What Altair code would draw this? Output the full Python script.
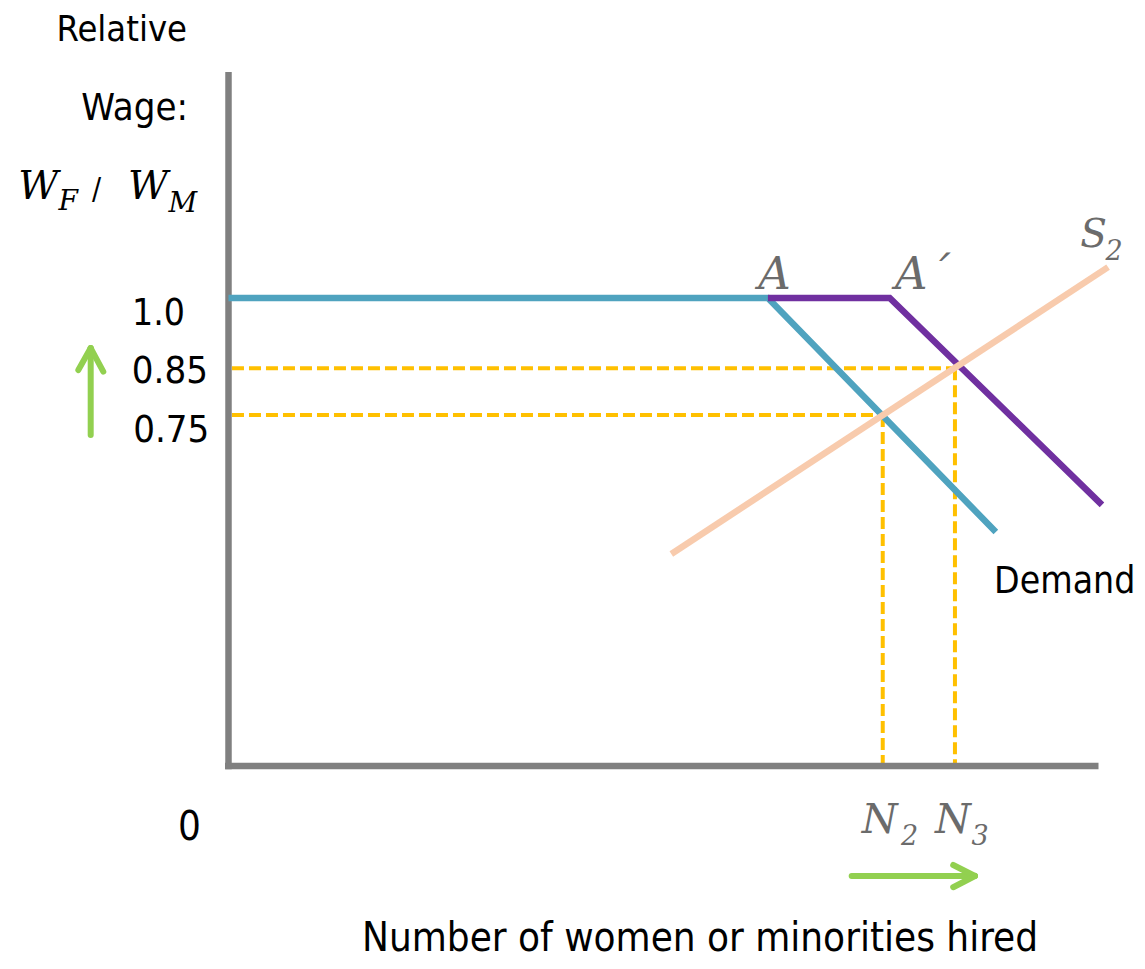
import altair as alt
import pandas as pd

# ---------------- data (quantity q: 0..100 along the x axis, relative wage w) ----------------
# axes
axis_q = [0, -0.4]          # start of vertical axis / horizontal axis
axis_q2 = [0, 100]
axis_w = [-0.007, 0]
axis_w2 = [1.483, 0]

# Demand curve with kink at A
demA_q = [0, 62.0, 88.2]
demA_w = [1.0, 1.0, 0.5]
# Demand curve with kink at A'
demA2_q = [62.0, 76.0, 100.4]
demA2_w = [1.0, 1.0, 0.558]
# Supply S2
sup_q = [50.9, 101.1]
sup_w = [0.453, 1.066]

# equilibria: (N2, 0.75) and (N3, 0.85)
eq_q = [75.2, 83.5]
eq_w = [0.75, 0.85]

# green arrows (shaft + head)
arrow_q = [-15.84, -17.26, -14.39, 71.63, 83.3, 83.3]
arrow_w = [0.707, 0.846, 0.8425, -0.235, -0.2115, -0.259]
arrow_q2 = [-15.84, -15.84, -15.84, 85.8, 85.8, 85.8]
arrow_w2 = [0.893, 0.893, 0.893, -0.235, -0.235, -0.235]

# labels
sansL_text = ["1.0", "0.85", "0.75", "0", "Demand", "/"]
sansL_q = [-11.09, -11.11, -10.96, -5.81, 88.0, -15.7]
sansL_w = [0.942, 0.818, 0.693, -0.158, 0.370, 1.2115]
sansL_fs = [37, 38, 38, 40, 37, 30]

sansR_text = ["Relative", "Wage:"]
sansR_q = [-4.77, -4.66]
sansR_w = [1.549, 1.380]
sansR_fs = [36, 38]

title_text = ["Number of women or minorities hired"]
title_q = [54.2]
title_w = [-0.396]

ital_text = ["W", "F", "W", "M", "A", "A\u00b4", "S", "2", "N", "2", "N", "3"]
ital_q = [-24.16, -19.55, -11.55, -6.9, 60.9, 76.6, 97.9, 100.8, 72.8, 77.3, 81.2, 85.4]
ital_w = [1.2115, 1.188, 1.2115, 1.1838, 1.019, 1.019, 1.109, 1.081, -0.143, -0.169, -0.143, -0.169]
ital_fs = [39, 28, 39, 28, 45, 45, 39, 27, 41, 27, 41, 27]

# ---------------- chart ----------------
PX_Q = 8.7
PX_W = 468.0
Q0 = (8 - 228.5) / PX_Q
Q1 = (1137 - 228.5) / PX_Q
W1 = (766 - 8) / PX_W
W0 = (766 - 961) / PX_W

xs = alt.Scale(domain=[Q0, Q1], nice=False, zero=False)
ys = alt.Scale(domain=[W0, W1], nice=False, zero=False)
SANS = "Liberation Sans Narrow, DejaVu Sans Condensed, sans-serif"
SERIF = "DejaVu Serif, serif"


def X(f="q"):
    return alt.X(f"{f}:Q", scale=xs, axis=None)


def Y(f="w"):
    return alt.Y(f"{f}:Q", scale=ys, axis=None)


axes_df = pd.DataFrame({"q": axis_q, "q2": axis_q2, "w": axis_w, "w2": axis_w2})
axes = alt.Chart(axes_df).mark_rule(color="#808080", strokeWidth=6.5, strokeCap="butt").encode(
    x=X(), x2="q2:Q", y=Y(), y2="w2:Q")

dash_rows = []
for q, w in zip(eq_q, eq_w):
    dash_rows.append({"q": 0.4, "w": w, "q2": q, "w2": w})
    dash_rows.append({"q": q, "w": w, "q2": q, "w2": 0.0})
dashes = alt.Chart(pd.DataFrame(dash_rows)).mark_rule(
    color="#FFC000", strokeWidth=4, strokeDash=[12, 5]).encode(
    x=X(), x2="q2:Q", y=Y(), y2="w2:Q")


def line(qs, ws, color):
    df = pd.DataFrame({"q": qs, "w": ws, "o": list(range(len(qs)))})
    return alt.Chart(df).mark_line(color=color, strokeWidth=6.5, strokeCap="butt",
                                   strokeJoin="miter").encode(x=X(), y=Y(), order="o:Q")


blue = line(demA_q, demA_w, "#4FA3BF")
purple = line(demA2_q, demA2_w, "#7030A0")
orange = line(sup_q, sup_w, "#F8CBAD")

arrows = alt.Chart(pd.DataFrame({"q": arrow_q, "w": arrow_w, "q2": arrow_q2, "w2": arrow_w2})).mark_rule(
    color="#92D050", strokeWidth=6, strokeCap="round").encode(x=X(), x2="q2:Q", y=Y(), y2="w2:Q")

sansL = alt.Chart(pd.DataFrame({"t": sansL_text, "q": sansL_q, "w": sansL_w, "fs": sansL_fs})).mark_text(
    font=SANS, align="left", baseline="alphabetic", color="black").encode(
    x=X(), y=Y(), text="t:N", size=alt.Size("fs:Q", scale=None))
sansR = alt.Chart(pd.DataFrame({"t": sansR_text, "q": sansR_q, "w": sansR_w, "fs": sansR_fs})).mark_text(
    font=SANS, align="right", baseline="alphabetic", color="black").encode(
    x=X(), y=Y(), text="t:N", size=alt.Size("fs:Q", scale=None))
title = alt.Chart(pd.DataFrame({"t": title_text, "q": title_q, "w": title_w})).mark_text(
    font=SANS, align="center", baseline="alphabetic", color="black", fontSize=40).encode(
    x=X(), y=Y(), text="t:N")
ital = alt.Chart(pd.DataFrame({"t": ital_text[4:], "q": ital_q[4:], "w": ital_w[4:], "fs": ital_fs[4:]})).mark_text(
    font=SERIF, fontStyle="italic", align="left", baseline="alphabetic", color="#6B6B6B").encode(
    x=X(), y=Y(), text="t:N", size=alt.Size("fs:Q", scale=None))
ital_black = alt.Chart(pd.DataFrame({"t": ital_text[:4], "q": ital_q[:4], "w": ital_w[:4], "fs": ital_fs[:4]})).mark_text(
    font=SERIF, fontStyle="italic", align="left", baseline="alphabetic", color="black").encode(
    x=X(), y=Y(), text="t:N", size=alt.Size("fs:Q", scale=None))

chart = alt.layer(dashes, axes, blue, purple, orange, arrows, sansL, sansR, title, ital, ital_black).properties(
    width=1129, height=953, padding=0, autosize=alt.AutoSizeParams(type="none")
).configure_view(stroke=None)

chart.save("out.html", embed_options={"renderer": "svg", "actions": False})
